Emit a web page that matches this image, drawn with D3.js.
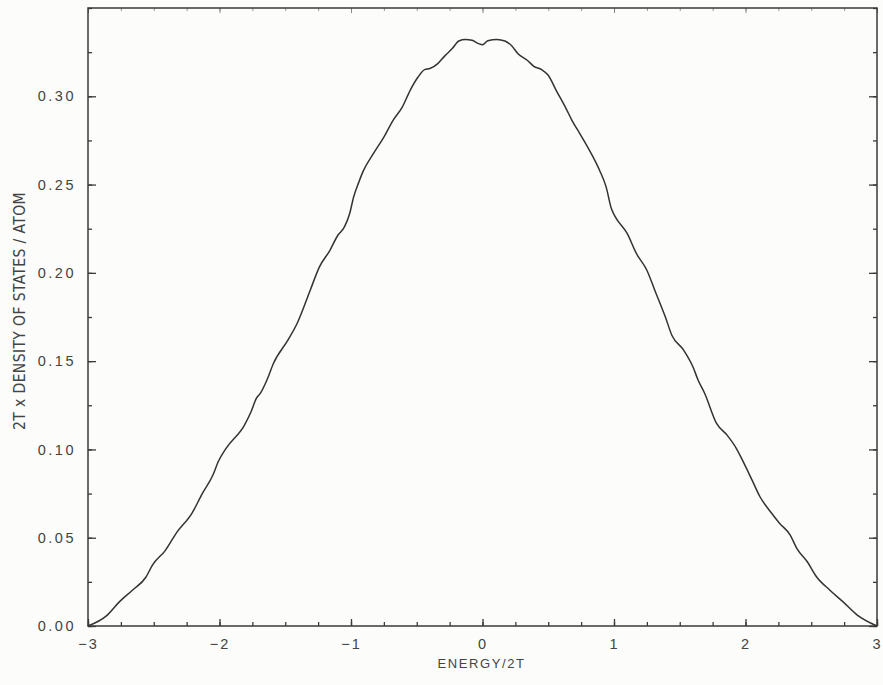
<!DOCTYPE html>
<html>
<head>
<meta charset="utf-8">
<script src="https://cdn.jsdelivr.net/npm/d3@7"></script>
<style>
  body { margin: 0; background: #fcfcfa; }
  svg { display: block; }
</style>
</head>
<body>
<div id="chart"></div>
<script>
// values (energy in units of 2T)
var energy = [-3.00, -2.86, -2.76, -2.66, -2.56, -2.51, -2.41, -2.33, -2.21, -2.13,
  -2.05, -2.01, -1.95, -1.81, -1.76, -1.72, -1.69, -1.64, -1.59, -1.48,
  -1.41, -1.31, -1.24, -1.16, -1.10, -1.05, -1.01, -0.98, -0.94, -0.91,
  -0.83, -0.75, -0.68, -0.61, -0.55, -0.49, -0.44, -0.40, -0.34, -0.29,
  -0.23, -0.18, -0.13, -0.08, -0.03, 0.00, 0.04, 0.11, 0.17, 0.22,
  0.27, 0.34, 0.39, 0.45, 0.50, 0.56, 0.63, 0.68, 0.74, 0.82,
  0.89, 0.94, 0.98, 1.01, 1.10, 1.17, 1.25, 1.31, 1.39, 1.44,
  1.53, 1.60, 1.64, 1.69, 1.78, 1.86, 1.93, 1.97, 2.05, 2.11,
  2.19, 2.26, 2.34, 2.39, 2.47, 2.54, 2.64, 2.74, 2.85, 3.00];
var dos = [0.0000, 0.0057, 0.0138, 0.0204, 0.0276, 0.0345, 0.0430, 0.0525, 0.0638, 0.0751,
  0.0855, 0.0930, 0.1006, 0.1138, 0.1213, 0.1289, 0.1317, 0.1392, 0.1487, 0.1619,
  0.1713, 0.1902, 0.2034, 0.2128, 0.2213, 0.2260, 0.2336, 0.2430, 0.2515, 0.2572,
  0.2675, 0.2769, 0.2864, 0.2939, 0.3034, 0.3109, 0.3151, 0.3157, 0.3185, 0.3226,
  0.3270, 0.3313, 0.3321, 0.3317, 0.3298, 0.3292, 0.3315, 0.3322, 0.3313, 0.3288,
  0.3241, 0.3204, 0.3170, 0.3151, 0.3119, 0.3034, 0.2939, 0.2864, 0.2789, 0.2685,
  0.2581, 0.2487, 0.2364, 0.2317, 0.2223, 0.2110, 0.2015, 0.1902, 0.1751, 0.1647,
  0.1562, 0.1468, 0.1392, 0.1317, 0.1147, 0.1081, 0.1006, 0.0949, 0.0826, 0.0732,
  0.0647, 0.0581, 0.0515, 0.0440, 0.0364, 0.0279, 0.0204, 0.0138, 0.0062, 0.0000];

var xTicks = [-3, -2, -1, 0, 1, 2, 3];
var yTicks = [0, 0.05, 0.10, 0.15, 0.20, 0.25, 0.30];
var xLabel = "ENERGY/2T";
var yLabel = "2T x DENSITY OF STATES / ATOM";

var data = energy.map(function (e, i) { return {e: e, d: dos[i]}; });

var W = 883, H = 685;
var margin = {top: 8, right: 6, bottom: 59, left: 88};
var width = W - margin.left - margin.right;
var height = H - margin.top - margin.bottom;

var svg = d3.select("#chart").append("svg")
  .attr("width", W)
  .attr("height", H);

var g = svg.append("g")
  .attr("transform", "translate(" + margin.left + "," + margin.top + ")");

var x = d3.scaleLinear().domain([-3, 3]).range([0, width]);
var y = d3.scaleLinear().domain([0, 0.35]).range([height, 0]);

var axisColor = "#3a3a3a";
var textColor = "#444";

// minor ticks (inward)
var xMinor = d3.range(-3, 3.001, 0.25);
var yMinor = d3.range(0, 0.3501, 0.025);

function styleAxis(sel) {
  sel.select(".domain").remove();
  sel.selectAll("line").attr("stroke", axisColor).attr("stroke-width", 1.3);
}

// bottom
g.append("g").attr("transform", "translate(0," + height + ")")
  .call(d3.axisBottom(x).tickValues(xMinor).tickSize(-4).tickFormat(""))
  .call(styleAxis);
var xb = g.append("g").attr("transform", "translate(0," + height + ")")
  .call(d3.axisBottom(x).tickValues(xTicks).tickSize(-7).tickPadding(13).tickFormat(d3.format("d")))
  .call(styleAxis);
xb.selectAll("text")
  .attr("fill", textColor)
  .style("font-family", "'Liberation Sans', Arial, sans-serif")
  .style("font-size", "14.5px")
  .style("letter-spacing", "2px");

// top (faint)
g.append("g")
  .call(d3.axisTop(x).tickValues(xMinor).tickSize(-3).tickFormat(""))
  .call(styleAxis)
  .selectAll("line").attr("stroke", "#999").attr("stroke-width", 1);
g.append("g")
  .call(d3.axisTop(x).tickValues(xTicks).tickSize(-5).tickFormat(""))
  .call(styleAxis)
  .selectAll("line").attr("stroke", "#888").attr("stroke-width", 1);

// left
g.append("g")
  .call(d3.axisLeft(y).tickValues(yMinor).tickSize(-4).tickFormat(""))
  .call(styleAxis);
var yl = g.append("g")
  .call(d3.axisLeft(y).tickValues(yTicks).tickSize(-8).tickPadding(12).tickFormat(d3.format(".2f")))
  .call(styleAxis);
yl.selectAll("text")
  .attr("fill", textColor)
  .style("font-family", "'Liberation Sans', Arial, sans-serif")
  .style("font-size", "14.5px")
  .style("letter-spacing", "2.5px");

// right
g.append("g").attr("transform", "translate(" + width + ",0)")
  .call(d3.axisRight(y).tickValues(yMinor).tickSize(-4).tickFormat(""))
  .call(styleAxis);
g.append("g").attr("transform", "translate(" + width + ",0)")
  .call(d3.axisRight(y).tickValues(yTicks).tickSize(-8).tickFormat(""))
  .call(styleAxis);

// frame
g.append("rect")
  .attr("x", 0).attr("y", 0)
  .attr("width", width).attr("height", height)
  .attr("fill", "none")
  .attr("stroke", axisColor)
  .attr("stroke-width", 1.5);

// curve
var line = d3.line()
  .x(function (d) { return x(d.e); })
  .y(function (d) { return y(d.d); })
  .curve(d3.curveMonotoneX);

g.append("path")
  .datum(data)
  .attr("d", line)
  .attr("fill", "none")
  .attr("stroke", "#333")
  .attr("stroke-width", 1.5);

// axis titles
svg.append("text")
  .attr("x", margin.left + x(0) - 1)
  .attr("y", 668)
  .attr("text-anchor", "middle")
  .attr("fill", textColor)
  .style("font-family", "'Liberation Sans', Arial, sans-serif")
  .style("font-size", "13px")
  .style("letter-spacing", "1.6px")
  .text(xLabel);

svg.append("text")
  .attr("transform", "translate(25," + 311 + ") rotate(-90)")
  .attr("text-anchor", "middle")
  .attr("fill", textColor)
  .style("font-family", "'DejaVu Sans Condensed', 'DejaVu Sans', sans-serif")
  .style("font-stretch", "condensed")
  .style("font-size", "15.5px")
  .style("letter-spacing", "0.4px")
  .text(yLabel);
</script>
</body>
</html>
